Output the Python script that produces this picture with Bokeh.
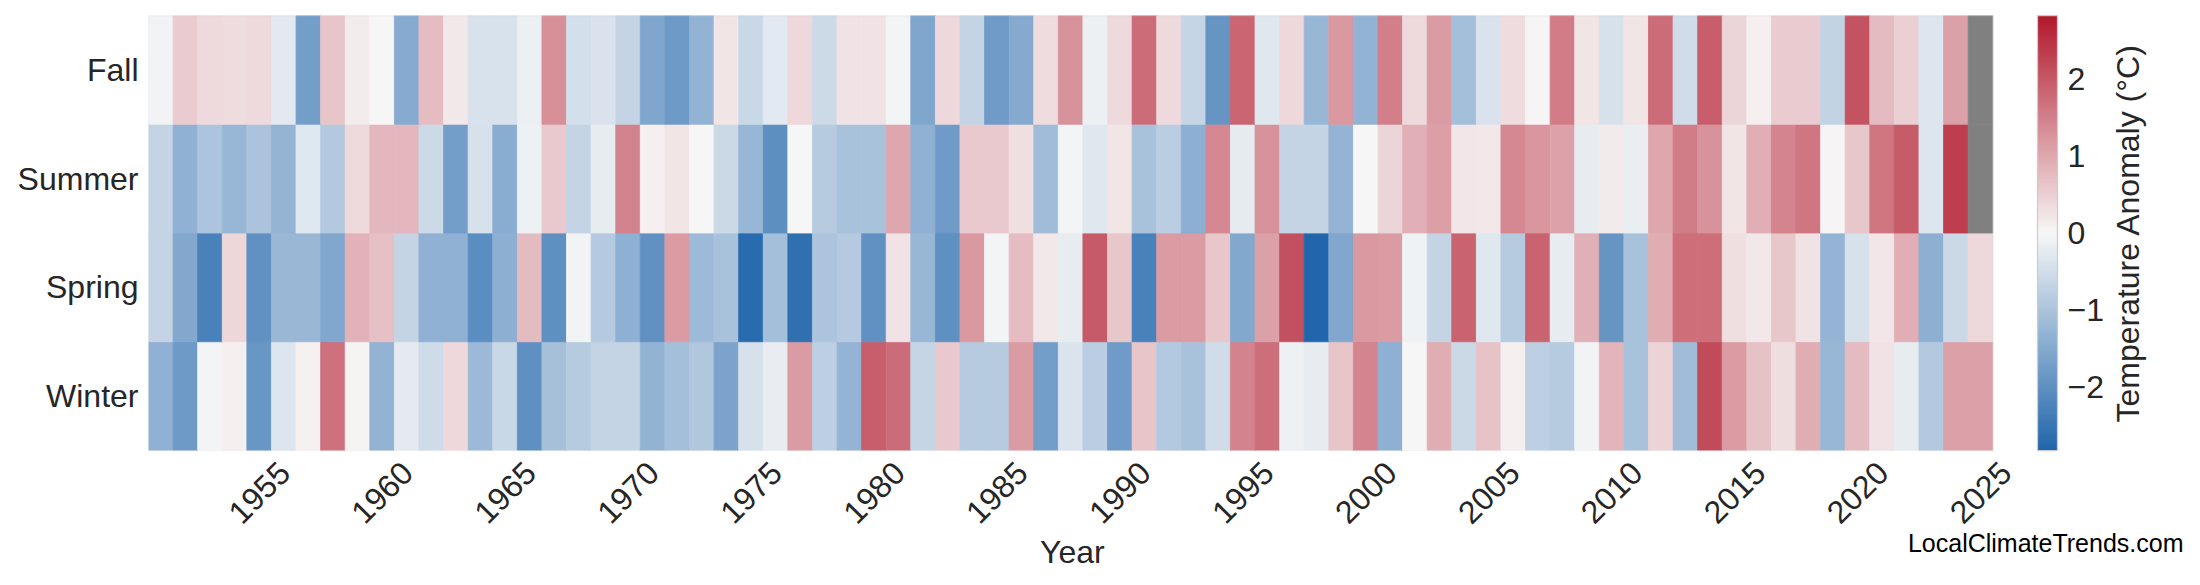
import math
import numpy as np
from bokeh.plotting import figure
from bokeh.models import (ColumnDataSource, LinearColorMapper, ColorBar, FixedTicker,
                          Range1d, Label, LinearAxis, BoxAnnotation, LinearScale, Title)
from bokeh.transform import transform
from bokeh.embed import file_html
from bokeh.resources import INLINE

nan = float("nan")

years = list(range(1951, 2026))
seasons = ["Winter", "Spring", "Summer", "Fall"]

winter = [-1.36, -1.80, -0.05, 0.11, -1.87, -0.34, 0.08, 1.68, 0.06, -1.32,
          -0.26, -0.55, 0.39, -1.20, -0.61, -2.00, -1.07, -0.84, -0.68, -0.68,
          -1.32, -1.10, -0.94, -1.61, -0.43, -0.18, 1.16, -0.77, -1.28, 1.93,
          1.75, -0.65, 0.58, -0.85, -0.85, 1.16, -1.74, -0.37, -0.80, -1.78,
          0.62, -0.90, -1.03, -0.51, 1.46, 1.71, -0.12, -0.22, 0.63, 1.44,
          -1.38, 0.00, 0.93, -0.58, 0.65, 0.11, -0.77, -0.85, -0.07, 0.83,
          -1.03, 0.46, -1.14, 2.17, 1.16, 0.68, 0.33, 0.93, -1.24, 0.75,
          0.25, -0.22, -0.89, 1.09, 1.09]

spring = [-0.68, -1.53, -2.29, 0.40, -1.98, -1.23, -1.22, -1.56, 0.87, 0.70,
          -0.67, -1.36, -1.36, -2.05, -1.40, 0.75, -1.99, -0.07, -0.87, -1.37,
          -1.98, 1.16, -1.18, -1.02, -2.72, -1.10, -2.62, -0.99, -0.88, -1.98,
          0.26, -1.24, -1.99, 1.17, -0.05, 0.74, 0.19, -0.22, 1.97, 0.60,
          -2.29, 1.16, 1.16, 0.60, -1.53, 1.08, 2.11, -2.82, -1.56, 1.17,
          1.15, -0.09, -0.68, 1.86, -0.29, -0.85, 1.86, -0.20, 0.89, -1.91,
          -1.03, 0.94, 1.73, 1.73, 0.29, 0.19, 0.60, 0.26, -1.28, -0.44,
          0.21, 0.92, -1.40, -0.58, 0.38]

summer = [-0.68, -1.36, -0.97, -1.24, -1.01, -1.28, -0.29, -0.89, 0.36, 0.80,
          0.80, -0.56, -1.74, -0.44, -1.45, -0.12, 0.59, -0.68, -0.20, 1.46,
          0.11, 0.24, 0.02, -0.58, -1.24, -2.01, 0.00, -0.85, -1.03, -1.03,
          1.03, -1.35, -1.78, 0.58, 0.58, 0.30, -1.14, -0.05, -0.29, 0.24,
          -1.03, -0.80, -1.40, 1.41, -0.24, 1.26, -0.68, -0.68, -1.29, 0.00,
          0.43, 0.90, 1.12, 0.21, 0.18, 1.41, 1.23, 1.06, -0.22, 0.16,
          -0.16, 1.03, 1.54, 1.26, 0.24, 0.92, 1.44, 1.62, 0.03, 0.60,
          1.63, 1.96, -0.34, 2.32, nan]

fall = [-0.07, 0.53, 0.36, 0.34, 0.36, -0.27, -1.73, 0.62, 0.14, 0.00,
        -1.46, 0.73, 0.18, -0.41, -0.41, -0.14, 1.31, -0.47, -0.39, -0.68,
        -1.58, -1.80, -1.32, 0.24, -0.60, -0.27, 0.38, -0.56, 0.25, 0.25,
        -0.05, -1.58, 0.38, -0.68, -1.78, -1.49, 0.34, 1.27, -0.14, 0.36,
        1.76, 0.36, -0.64, -1.90, 1.85, -0.30, 0.39, -1.24, 1.21, -1.31,
        1.52, 0.36, 1.16, -1.10, -0.39, 0.34, 0.04, 1.56, 0.24, -0.44,
        0.24, 1.76, -0.51, 1.92, 0.43, 0.10, 0.55, 0.55, -0.69, 2.06,
        0.75, 0.49, -0.35, 1.08, nan]

x_ticks = [1955, 1960, 1965, 1970, 1975, 1980, 1985, 1990, 1995, 2000,
           2005, 2010, 2015, 2020, 2025]
cbar_ticks = [-2, -1, 0, 1, 2]
cbar_labels = {-2: "\u22122", -1: "\u22121", 0: "0", 1: "1", 2: "2"}
v_limit = 2.82

FONT = "Liberation Sans"
TEXT = "#262626"

# layout constants (pixels)
W, H = 2200, 585
FRAME_LEFT, FRAME_TOP, FRAME_H = 148, 15, 435
FRAME_W = W - FRAME_LEFT          # the frame also hosts the colour bar and its title
PX_PER_YEAR = 24.59
LABEL_SHIFT = 1.03   # rotated labels are anchored at their end: shift them so they centre on the tick
x0 = years[0] - 0.5
x1 = x0 + FRAME_W / PX_PER_YEAR
y0, y1 = -0.5, len(seasons) - 0.5
HEATMAP_RIGHT = FRAME_LEFT + (years[-1] + 0.5 - x0) * PX_PER_YEAR
YEAR_LABEL_RIGHT = (FRAME_LEFT + HEATMAP_RIGHT) / 2 + 34


def px_to_x(px):
    return x0 + (px - FRAME_LEFT) / PX_PER_YEAR


# diverging palette blue -> light grey -> red
stops = np.array([[0x21, 0x66, 0xAC], [0xF7, 0xF7, 0xF7], [0xB2, 0x18, 0x2B]], dtype=float)
pos = np.linspace(0.0, 1.0, 256)
palette = []
for t in pos:
    rgb = [int(round(np.interp(t, [0.0, 0.5, 1.0], stops[:, k]))) for k in range(3)]
    palette.append("#%02x%02x%02x" % tuple(rgb))

xs, ys, vs = [], [], []
for row, vals in enumerate([winter, spring, summer, fall]):
    for yr, v in zip(years, vals):
        xs.append(yr)
        ys.append(row)
        vs.append(v)
src = ColumnDataSource(dict(year=np.array(xs, dtype=float), row=np.array(ys, dtype=float),
                            value=np.array(vs, dtype=float)))

mapper = LinearColorMapper(palette=palette, low=-v_limit, high=v_limit, nan_color="#808080")

p = figure(x_range=Range1d(x0, x1), y_range=Range1d(y0, y1),
           x_axis_location=None,
           frame_width=FRAME_W, frame_height=FRAME_H,
           min_border_left=FRAME_LEFT, min_border_right=0,
           min_border_top=FRAME_TOP, min_border_bottom=H - FRAME_TOP - FRAME_H,
           output_backend="svg", toolbar_location=None,
           background_fill_color="white", border_fill_color="white")
p.extra_x_ranges = {"ticks": Range1d(x0 - LABEL_SHIFT, x1 - LABEL_SHIFT)}
p.extra_x_scales = {"ticks": LinearScale()}

p.rect(x="year", y="row", width=1, height=1, source=src,
       fill_color=transform("value", mapper), line_color=transform("value", mapper),
       line_width=0.8)

p.outline_line_color = None
p.grid.visible = False
p.add_layout(BoxAnnotation(left=years[0] - 0.5, right=years[-1] + 0.5,
                           fill_color=None, line_color="#cccccc", line_width=1.25))

xaxis = LinearAxis(x_range_name="ticks", ticker=FixedTicker(ticks=x_ticks))
p.add_layout(xaxis, "below")

yaxis = p.yaxis[0]
yaxis.ticker = FixedTicker(ticks=list(range(len(seasons))))
yaxis.major_label_overrides = {i: s for i, s in enumerate(seasons)}

for ax in (xaxis, yaxis):
    ax.axis_line_color = None
    ax.major_tick_line_color = None
    ax.minor_tick_line_color = None
    ax.major_tick_in = 0
    ax.major_tick_out = 0
    ax.major_label_text_font = FONT
    ax.major_label_text_font_size = "32px"
    ax.major_label_text_color = TEXT

yaxis.major_label_standoff = 10
xaxis.major_label_orientation = math.pi / 4
xaxis.major_label_standoff = 17

cb = ColorBar(color_mapper=mapper, ticker=FixedTicker(ticks=cbar_ticks),
              major_label_overrides=cbar_labels,
              width=20, height=FRAME_H, location=(2037 - FRAME_LEFT, 0), padding=0, margin=0,
              label_standoff=10, major_tick_line_color=None, minor_tick_line_color=None,
              bar_line_color="#cccccc", bar_line_width=1.25, border_line_color=None,
              background_fill_color=None,
              major_label_text_font=FONT, major_label_text_font_size="32px",
              major_label_text_color=TEXT)
p.add_layout(cb)

cb_title = Label(x=px_to_x(2127), y=(y0 + y1) / 2, angle=math.pi / 2,
                 text="Temperature Anomaly (\u00b0C)",
                 text_align="center", text_baseline="middle",
                 text_font=FONT, text_font_size="32px", text_color=TEXT)
p.add_layout(cb_title)

# below the tick labels: the credit line (right) and the x-axis title (under the heat map)
credit = Title(text="LocalClimateTrends.com", align="right", vertical_align="top",
               offset=W - 2183, standoff=-16,
               text_font=FONT, text_font_size="25px", text_font_style="normal",
               text_color="#000000")
p.add_layout(credit, "below")

year_title = Title(text="Year", align="right", vertical_align="top",
                   offset=W - YEAR_LABEL_RIGHT, standoff=-34,
                   text_font=FONT, text_font_size="32px", text_font_style="normal",
                   text_color=TEXT)
p.add_layout(year_title, "below")

open("out.html", "w").write(file_html(p, INLINE))
